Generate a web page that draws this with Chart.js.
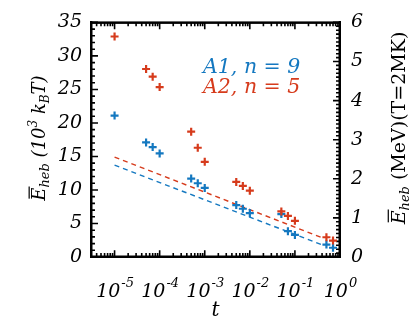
<!DOCTYPE html>
<html>
<head>
<meta charset="utf-8">
<script src="https://cdn.jsdelivr.net/npm/chart.js@4/dist/chart.umd.min.js"></script>
<style>
  html, body { margin: 0; padding: 0; background: #fff; }
</style>
</head>
<body>
<canvas id="chart" width="415" height="332"></canvas>
<script>
// data
var tValues = [1e-5, 5e-5, 7e-5, 1e-4, 5e-4, 7e-4, 1e-3, 5e-3, 7e-3, 1e-2, 5e-2, 7e-2, 1e-1, 5e-1, 7e-1];
var eA1 = [21.1, 17.1, 16.4, 15.45, 11.7, 11.0, 10.3, 7.75, 7.2, 6.55, 6.4, 3.85, 3.3, 1.85, 1.38];
var eA2 = [32.9, 28.05, 26.9, 25.35, 18.7, 16.3, 14.2, 11.2, 10.6, 9.9, 6.8, 6.13, 5.4, 2.95, 2.45];
var fitT = [1e-5, 0.45];
var fitA1 = [13.7, 1.68];
var fitA2 = [14.9, 2.75];
var xTickExp = [-5, -4, -3, -2, -1, 0];
var legendLabels = ["A1, n = 9", "A2, n = 5"];

var blue = "#1478C0";
var red = "#D63B1C";
var ink = "#000000";
var FAM = "'DejaVu Serif', 'Liberation Serif', serif";

var X_MIN = 3e-6, X_MAX = 1;
var Y_MAX = 35, Y2_MAX = 6;
// rough pixel sizes of one decade / one unit, only used for tick lengths
var PX_PER_DECADE = 45.09, PX_PER_UNIT = 6.886;

function pairs(xs, ys) {
    var out = [];
    for (var i = 0; i < xs.length; i++) {
        out.push({ x: xs[i], y: ys[i] });
    }
    return out;
}

function font(size, upright) {
    return (upright ? "" : "italic ") + size + "px " + FAM;
}

// inward ticks as short segments split by gaps
function tickPath() {
    var out = [];
    function seg(a, b) {
        out.push(a, b, { x: a.x, y: null });
    }
    for (var v = 0; v <= Y_MAX; v++) {
        var len = (v % 5 === 0) ? 7 : 4;
        seg({ x: X_MIN, y: v }, { x: X_MIN * Math.pow(10, len / PX_PER_DECADE), y: v });
    }
    for (var i = 0; i <= Y2_MAX * 10; i++) {
        var len2 = (i % 10 === 0) ? 7 : 4;
        var yy = i / 10 * Y_MAX / Y2_MAX;
        seg({ x: X_MAX, y: yy }, { x: X_MAX / Math.pow(10, len2 / PX_PER_DECADE), y: yy });
    }
    for (var d = -6; d <= 0; d++) {
        for (var m = 1; m <= 9; m++) {
            var xv = m * Math.pow(10, d);
            if (xv < X_MIN * 0.999 || xv > X_MAX * 1.001) continue;
            var len3 = (m === 1) ? 7 : 4;
            seg({ x: xv, y: 0 }, { x: xv, y: len3 / PX_PER_UNIT });
            seg({ x: xv, y: Y_MAX }, { x: xv, y: Y_MAX - len3 / PX_PER_UNIT });
        }
    }
    return out;
}

// text built from pieces (normal / sub / sup), centred on 0 after rotating
function drawRich(ctx, parts, cx, cy, angle, color) {
    ctx.save();
    ctx.translate(cx, cy);
    ctx.rotate(angle);
    ctx.fillStyle = color;
    ctx.textBaseline = "alphabetic";
    ctx.textAlign = "left";
    var total = 0;
    for (var i = 0; i < parts.length; i++) {
        ctx.font = font(parts[i].size, parts[i].up);
        parts[i].w = ctx.measureText(parts[i].t).width;
        total += parts[i].w;
    }
    var x = -total / 2;
    for (var j = 0; j < parts.length; j++) {
        var p = parts[j];
        ctx.font = font(p.size, p.up);
        ctx.fillText(p.t, x, p.dy || 0);
        if (p.bar) {
            ctx.fillRect(x + 2, -p.size * 0.88 - 0.6, p.w - 1, 1.2);
        }
        x += p.w;
    }
    ctx.restore();
}

var leftTitle = [
    { t: "E", size: 18, bar: true },
    { t: "heb", size: 13, dy: 4 },
    { t: " (10", size: 18 },
    { t: "3", size: 12, dy: -8 },
    { t: " k", size: 18 },
    { t: "B", size: 12, dy: 4 },
    { t: "T)", size: 18 }
];
var rightTitle = [
    { t: "E", size: 19, bar: true },
    { t: "heb", size: 13, dy: 4 },
    { t: " (MeV)(T=2MK)", size: 19, up: true }
];

var textPlugin = {
    id: "textPlugin",
    afterDraw: function (chart) {
        var ctx = chart.ctx;
        var a = chart.chartArea;
        var xs = chart.scales.x;
        var mid = (xs.left + xs.right) / 2;

        ctx.save();
        // box round the plot
        ctx.fillStyle = ink;
        ctx.fillRect(a.left - 1, a.top - 1, a.right - a.left + 2, 2.5);
        ctx.fillRect(a.left - 1, a.bottom - 1.5, a.right - a.left + 2, 2.5);
        ctx.fillRect(a.left - 1, a.top - 1, 2.5, a.bottom - a.top + 2);
        ctx.fillRect(a.right - 1.5, a.top - 1, 2.5, a.bottom - a.top + 2);

        ctx.textBaseline = "alphabetic";
        ctx.textAlign = "left";
        // x tick labels 10^n
        for (var k = 0; k < xTickExp.length; k++) {
            var tx = xs.getPixelForValue(Math.pow(10, xTickExp[k]));
            var ex = String(xTickExp[k]);
            ctx.font = font(19);
            var w1 = ctx.measureText("10").width;
            ctx.font = font(13);
            var w2 = ctx.measureText(ex).width;
            var sx = tx - (w1 + w2) / 2;
            ctx.font = font(19);
            ctx.fillText("10", sx, 297);
            ctx.font = font(13);
            ctx.fillText(ex, sx + w1 + 1, 287);
        }
        ctx.font = font(20);
        ctx.textAlign = "center";
        ctx.fillText("t", mid, 316);

        // legend text
        ctx.textAlign = "left";
        ctx.font = font(20.5);
        ctx.fillStyle = blue;
        ctx.fillText(legendLabels[0], 203, 73);
        ctx.fillStyle = red;
        ctx.fillText(legendLabels[1], 203, 93);
        ctx.restore();

        drawRich(ctx, leftTitle, 45, 138, -Math.PI / 2, ink);
        drawRich(ctx, rightTitle, 405, 128, -Math.PI / 2, ink);
    }
};

var tickFont = { family: FAM, style: "italic", size: 19 };
var noGrid = { display: false, drawTicks: false };
var edge = { display: true, color: ink, width: 2 };

var chart = new Chart(document.getElementById("chart"), {
    data: {
        datasets: [
            {
                type: "scatter", label: "A1", data: pairs(tValues, eA1),
                pointStyle: "cross", pointRadius: 4, pointBorderWidth: 2.2,
                borderColor: blue, backgroundColor: blue, order: 1
            },
            {
                type: "scatter", label: "A2", data: pairs(tValues, eA2),
                pointStyle: "cross", pointRadius: 4, pointBorderWidth: 2.2,
                borderColor: red, backgroundColor: red, order: 0
            },
            {
                type: "line", label: "fit A1", data: pairs(fitT, fitA1),
                borderColor: blue, borderWidth: 1.4, borderDash: [5, 4],
                pointRadius: 0, fill: false, order: 3
            },
            {
                type: "line", label: "fit A2", data: pairs(fitT, fitA2),
                borderColor: red, borderWidth: 1.4, borderDash: [5, 4],
                pointRadius: 0, fill: false, order: 2
            },
            {
                type: "line", label: "ticks", data: tickPath(),
                borderColor: ink, borderWidth: 1.6, pointRadius: 0, pointHitRadius: 0,
                fill: false, tension: 0, spanGaps: false, clip: false, order: 11
            }
        ]
    },
    options: {
        responsive: false,
        animation: false,
        devicePixelRatio: 1,
        layout: { padding: { top: 16, left: 0, right: 0, bottom: 0 } },
        plugins: { legend: { display: false }, tooltip: { enabled: false } },
        scales: {
            x: {
                type: "logarithmic", position: "bottom", min: X_MIN, max: X_MAX,
                grid: noGrid, border: edge,
                ticks: { display: false },
                afterFit: function (s) { s.height = 75; }
            },
            y: {
                position: "left", min: 0, max: Y_MAX,
                grid: noGrid, border: edge,
                ticks: { stepSize: 5, font: tickFont, color: ink, padding: 9 },
                afterFit: function (s) { s.width = 91; }
            },
            y2: {
                position: "right", min: 0, max: Y2_MAX,
                grid: noGrid, border: edge,
                ticks: { stepSize: 1, font: tickFont, color: ink, padding: 11 },
                afterFit: function (s) { s.width = 75; }
            }
        }
    },
    plugins: [textPlugin]
});
</script>
</body>
</html>
